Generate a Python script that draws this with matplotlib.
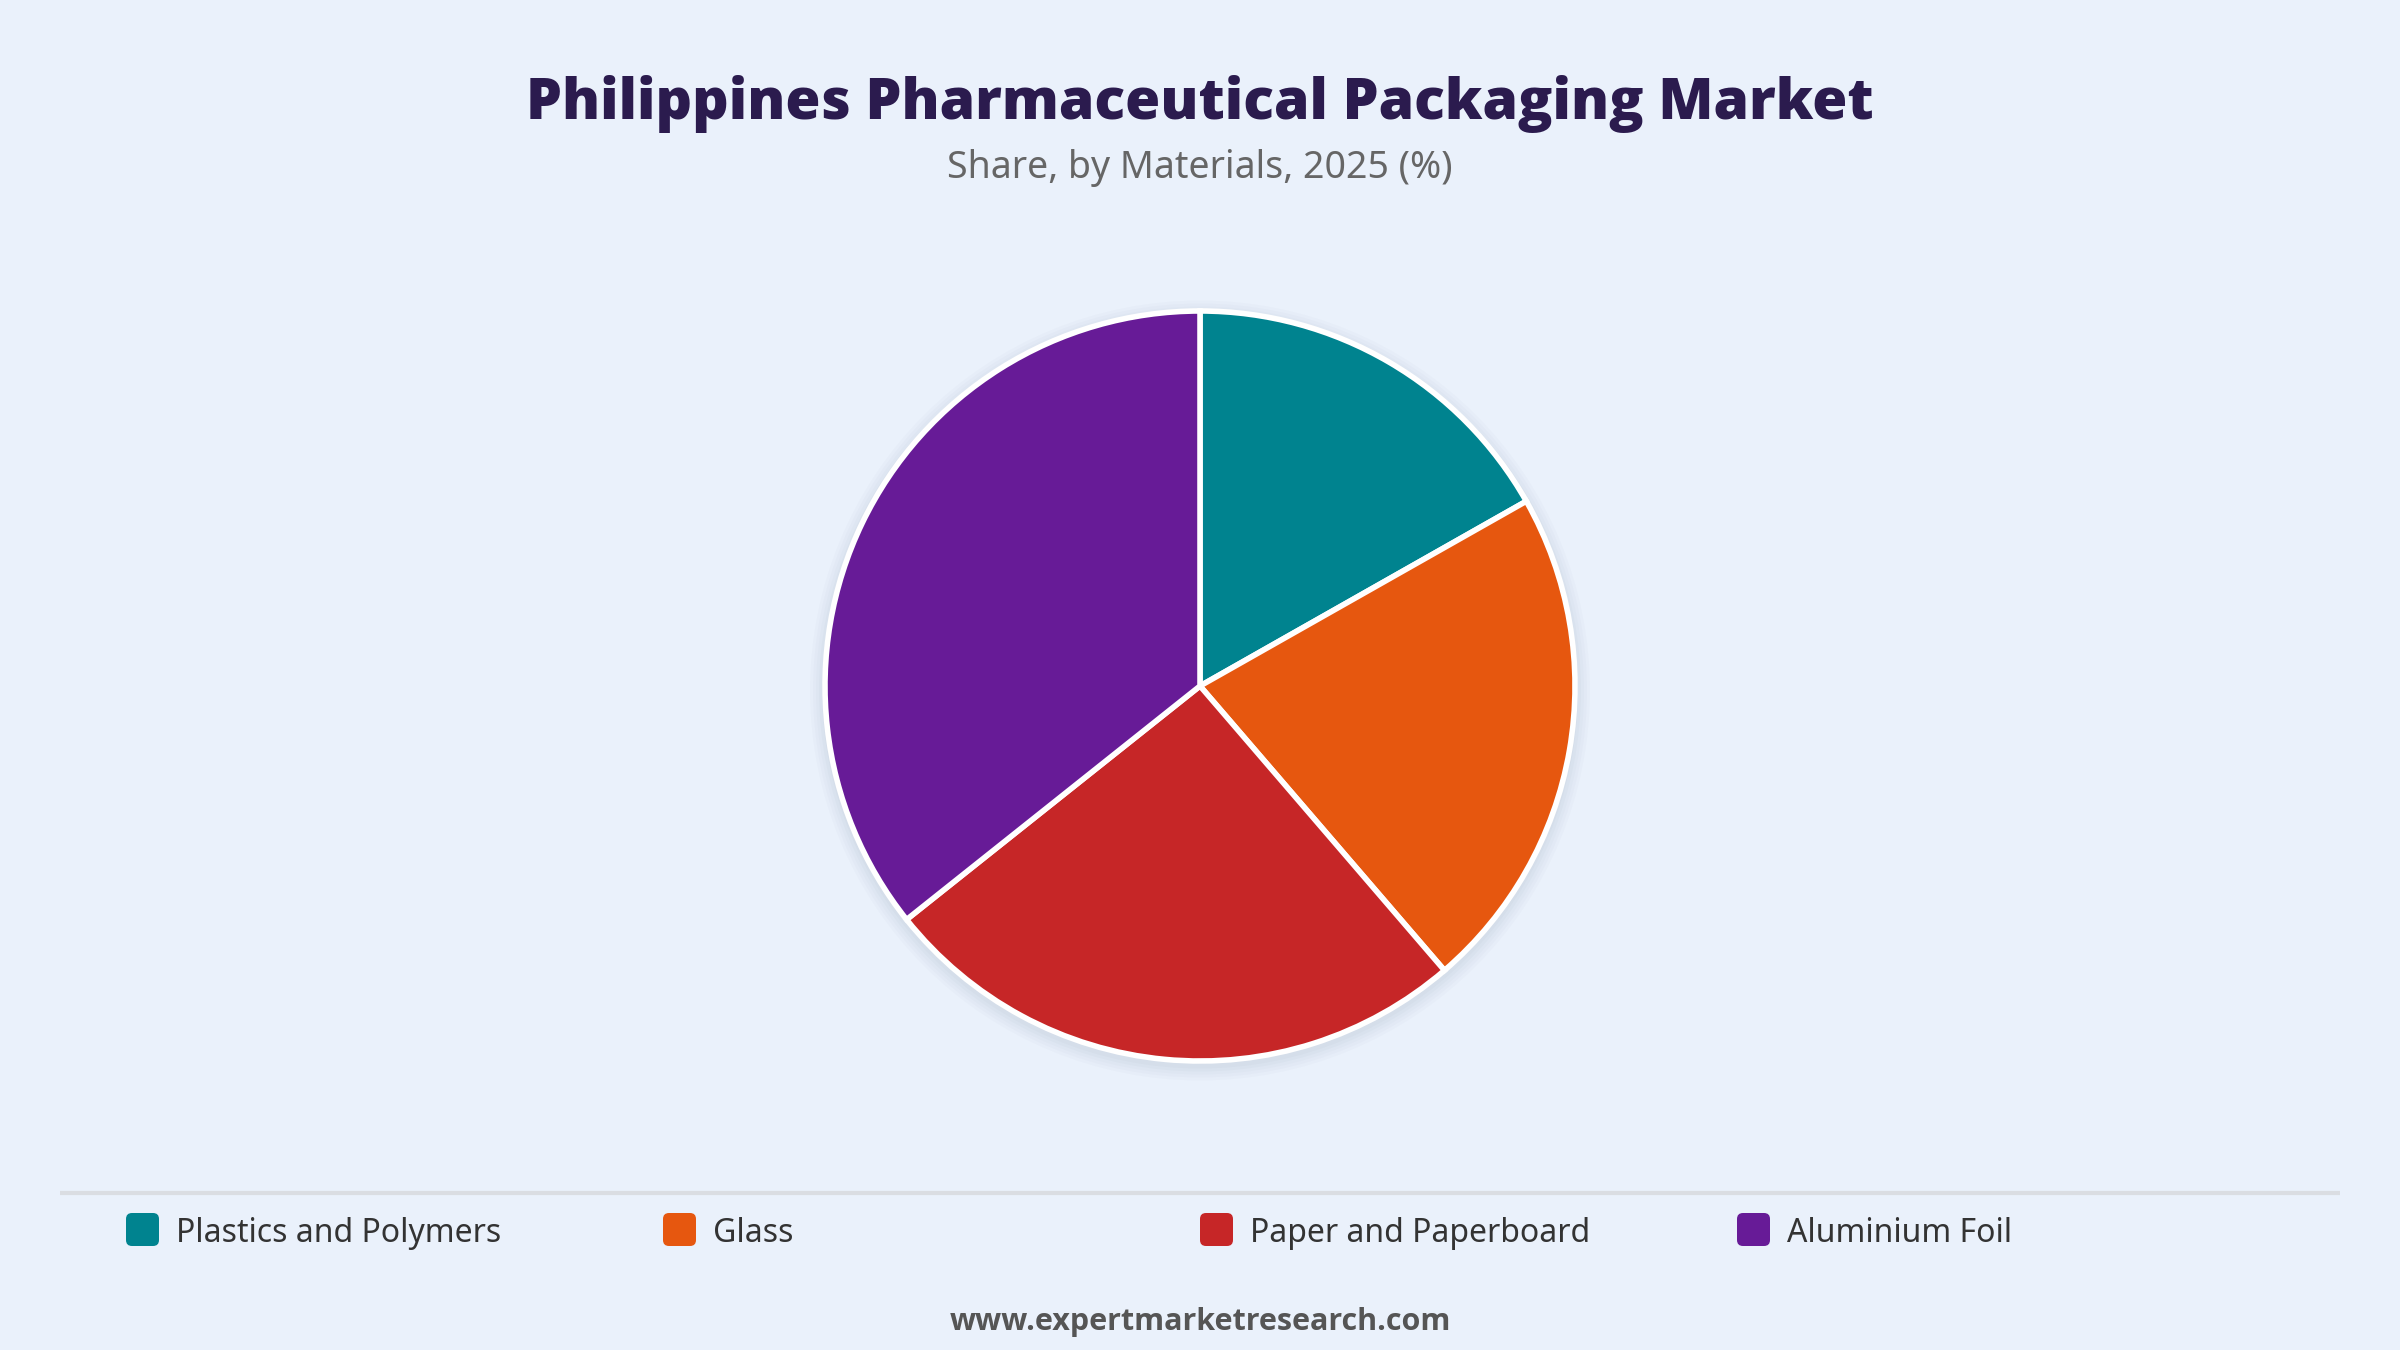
import matplotlib
matplotlib.use("Agg")
import matplotlib.pyplot as plt
from matplotlib.patches import FancyBboxPatch, Circle

categories = ["Plastics and Polymers", "Glass", "Paper and Paperboard", "Aluminium Foil"]
shares = [16.8, 21.9, 25.6, 35.7]
colors = ["#00838F", "#E6570F", "#C62627", "#671B97"]

title = "Philippines Pharmaceutical Packaging Market"
subtitle = "Share, by Materials, 2025 (%)"
footer = "www.expertmarketresearch.com"

BG = "#EAF1FB"
W, H = 2400, 1350
plt.rcParams['font.family'] = ['Noto Sans', 'DejaVu Sans']
BOLD = ['Open Sans', 'DejaVu Sans']

fig = plt.figure(figsize=(24, 13.5), dpi=100, facecolor=BG)

# overlay axes in pixel coords
ov = fig.add_axes([0, 0, 1, 1], facecolor="none")
ov.set_xlim(0, W)
ov.set_ylim(H, 0)
ov.axis("off")

ov.text(1200, 104, title, ha="center", va="center", fontsize=41, fontweight="heavy",
        family=BOLD, color="#2B1B4E")
ov.text(1200, 168, subtitle, ha="center", va="center", fontsize=27, color="#666666")

# pie axes
cx, cy, r = 1200, 686, 375
box = 420
pax = fig.add_axes([(cx - box) / W, (H - cy - box) / H, 2 * box / W, 2 * box / H])
pax.set_aspect("equal")
pax.axis("off")

# soft shadow
for i, a in enumerate([0.025, 0.025, 0.025, 0.03, 0.03]):
    pax.add_patch(Circle((0, -0.012), 1.0 + 0.008 * (5 - i), color="#5A6B80", alpha=a, lw=0, zorder=0))

pax.pie(shares, colors=colors, startangle=90, counterclock=False, radius=1.0,
        wedgeprops=dict(edgecolor="white", linewidth=4))
pax.set_xlim(-box / r, box / r)
pax.set_ylim(-box / r, box / r)

# separator
ov.plot([60, 2340], [1193, 1193], color="#DADDE2", lw=3, solid_capstyle="butt")

# legend
x0, step = 126, 537
for i, (lab, col) in enumerate(zip(categories, colors)):
    x = x0 + i * step
    ov.add_patch(FancyBboxPatch((x, 1213), 33, 33, boxstyle="round,pad=0,rounding_size=6",
                                fc=col, ec="none"))
    ov.text(x + 50, 1234, lab, ha="left", va="center", fontsize=23, color="#333333")

ov.text(1200, 1322, footer, ha="center", va="center", fontsize=22, fontweight="bold",
        family=BOLD, color="#555555")

fig.savefig("out.png", dpi=100, facecolor=BG)
